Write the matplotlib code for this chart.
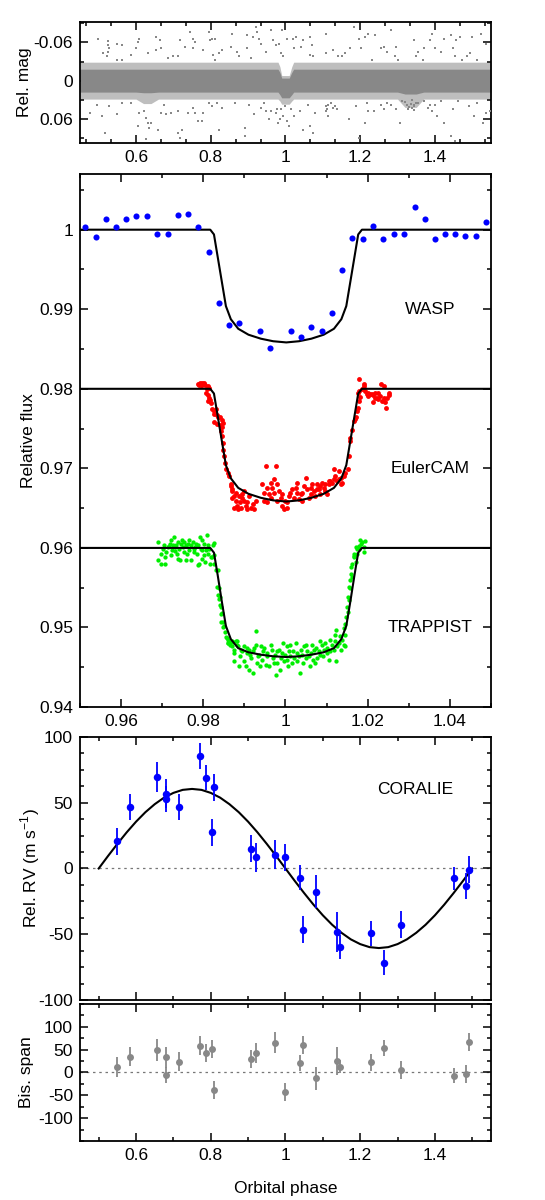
import matplotlib
matplotlib.use('Agg')
import matplotlib.pyplot as plt
from matplotlib.ticker import MultipleLocator, FixedLocator, FuncFormatter

plt.rcParams['font.family'] = ['Liberation Sans', 'DejaVu Sans']
plt.rcParams['font.size'] = 12.5
plt.rcParams['axes.unicode_minus'] = False

# ---------------- data ----------------
# top panel: WASP survey photometry, dense band (edges) + scattered points
band_phase = [0.45, 0.60, 0.62, 0.64, 0.66, 0.98, 0.985, 0.99, 1.01, 1.017, 1.022, 1.30, 1.32, 1.35, 1.37, 1.55]
band_core_top = [-0.018, -0.018, -0.018, -0.018, -0.018, -0.018, -0.013, -0.004, -0.004, -0.013, -0.018, -0.018, -0.018, -0.018, -0.018, -0.018]
band_core_bot = [0.018, 0.018, 0.019, 0.019, 0.018, 0.018, 0.022, 0.027, 0.027, 0.022, 0.018, 0.018, 0.021, 0.021, 0.018, 0.018]
band_fuzz_top = [-0.029, -0.029, -0.029, -0.029, -0.029, -0.029, -0.022, -0.008, -0.008, -0.022, -0.029, -0.029, -0.029, -0.029, -0.029, -0.029]
band_fuzz_bot = [0.029, 0.029, 0.036, 0.036, 0.029, 0.029, 0.032, 0.037, 0.037, 0.032, 0.029, 0.029, 0.042, 0.042, 0.029, 0.029]

out_phase = [0.497, 0.525, 0.524, 0.527, 0.524, 0.511, 0.550, 0.563, 0.522, 0.550, 0.563, 0.586, 0.599, 0.608,
             0.604, 0.631, 0.654, 0.663, 0.654, 0.667, 0.685, 0.699, 0.712, 0.717, 0.731, 0.744, 0.753, 0.758,
             0.753, 0.780, 0.794, 0.798, 0.803, 0.812, 0.807, 0.812, 0.821, 0.830, 0.853, 0.857, 0.871, 0.875,
             0.898, 0.898, 0.907, 0.912, 0.921, 0.925, 0.930, 0.934, 0.948, 0.961, 0.966, 0.975, 0.984, 0.988,
             0.993,
             0.477, 0.495, 0.509, 0.527, 0.550, 0.563, 0.586, 0.608, 0.622, 0.626, 0.631, 0.636, 0.640, 0.658,
             0.667, 0.676, 0.681, 0.694, 0.712, 0.712, 0.717, 0.722, 0.740, 0.753, 0.758, 0.767, 0.776, 0.780,
             0.794, 0.803, 0.817, 0.821, 0.830, 0.866, 0.893, 0.903, 0.916, 0.934, 0.943, 0.948, 0.957, 0.961,
             0.975, 0.979, 0.988, 0.993, 0.518, 0.626, 0.604, 0.893,
             0.991, 1.005, 1.019, 1.028, 1.047, 1.042, 1.024, 1.066, 1.071, 1.066, 1.075, 1.108, 1.108, 1.127,
             1.141, 1.151, 1.160, 1.174, 1.184, 1.198, 1.203, 1.212, 1.222, 1.231, 1.240, 1.255, 1.264, 1.273,
             1.283, 1.297, 1.292, 1.302, 1.344, 1.349, 1.354, 1.368, 1.372, 1.387, 1.391, 1.401, 1.415, 1.424,
             1.443, 1.448, 1.453, 1.457, 1.467, 1.472, 1.486, 1.495, 1.500, 1.514, 1.523, 1.538,
             0.976, 0.986, 1.000, 1.005, 1.009, 1.014, 1.024, 1.038, 1.047, 1.061, 1.066, 1.075, 1.080, 1.108,
             1.113, 1.123, 1.127, 1.132, 1.137, 1.170, 1.189, 1.198, 1.212, 1.217, 1.222, 1.236, 1.255, 1.264,
             1.273, 1.283, 1.297, 1.306, 1.311, 1.344, 1.354, 1.372, 1.382, 1.387, 1.391, 1.401, 1.405, 1.415,
             1.424, 1.443, 1.448, 1.453, 1.462, 1.490, 1.504, 1.514, 1.528, 1.538, 1.547,
             1.320, 1.325, 1.330, 1.335, 1.340, 1.345, 1.350, 1.328, 1.338, 1.343, 1.108, 1.112, 1.115]
out_mag = [-0.066, -0.063, -0.056, -0.051, -0.045, -0.044, -0.057, -0.056, -0.038, -0.032, -0.032, -0.040, -0.051, -0.066,
           -0.061, -0.043, -0.069, -0.064, -0.048, -0.051, -0.035, -0.038, -0.038, -0.064, -0.053, -0.077, -0.066, -0.061,
           -0.051, -0.048, -0.077, -0.064, -0.066, -0.066, -0.040, -0.032, -0.043, -0.048, -0.053, -0.074, -0.045, -0.038,
           -0.071, -0.051, -0.035, -0.069, -0.084, -0.077, -0.066, -0.058, -0.045, -0.079, -0.064, -0.056, -0.058, -0.043,
           -0.038,
           0.051, 0.038, 0.056, 0.040, 0.053, 0.035, 0.035, 0.051, 0.048, 0.058, 0.066, 0.074, 0.066, 0.077,
           0.051, 0.038, 0.053, 0.051, 0.048, 0.082, 0.090, 0.077, 0.051, 0.043, 0.051, 0.064, 0.064, 0.051,
           0.035, 0.040, 0.035, 0.077, 0.043, 0.035, 0.074, 0.038, 0.053, 0.043, 0.035, 0.048, 0.061, 0.048,
           0.051, 0.066, 0.045, 0.056, 0.082, 0.092, 0.071, 0.087,
           -0.080, -0.066, -0.066, -0.069, -0.064, -0.053, -0.051, -0.069, -0.056, -0.040, -0.038, -0.074, -0.043, -0.048,
           -0.038, -0.038, -0.043, -0.051, -0.084, -0.066, -0.051, -0.069, -0.074, -0.032, -0.071, -0.051, -0.053, -0.045,
           -0.079, -0.053, -0.038, -0.032, -0.064, -0.038, -0.045, -0.032, -0.051, -0.064, -0.074, -0.051, -0.045, -0.066,
           -0.071, -0.051, -0.038, -0.064, -0.069, -0.032, -0.038, -0.043, -0.069, -0.032, -0.074, -0.058,
           0.045, 0.061, 0.040, 0.064, 0.071, 0.045, 0.056, 0.048, 0.077, 0.038, 0.071, 0.082, 0.051, 0.048,
           0.056, 0.035, 0.043, 0.040, 0.045, 0.061, 0.040, 0.090, 0.066, 0.035, 0.048, 0.048, 0.038, 0.045,
           0.035, 0.038, 0.045, 0.066, 0.032, 0.040, 0.035, 0.032, 0.043, 0.038, 0.048, 0.038, 0.056, 0.032,
           0.066, 0.087, 0.045, 0.095, 0.032, 0.040, 0.056, 0.035, 0.066, 0.051, 0.048,
           0.033, 0.038, 0.041, 0.036, 0.043, 0.039, 0.035, 0.044, 0.031, 0.046, 0.040, 0.045, 0.038]

# transit panel: binned WASP data
wasp_phase = [0.9513, 0.9538, 0.9563, 0.9588, 0.9613, 0.9637, 0.9662, 0.9687, 0.9713, 0.9738, 0.9763, 0.9788, 0.9813,
              0.9838, 0.9863, 0.9888, 0.9938, 0.9963, 1.0013, 1.0038, 1.0063, 1.0088, 1.0113, 1.0137, 1.0163, 1.0188,
              1.0213, 1.0238, 1.0263, 1.0288, 1.0314, 1.0339, 1.0363, 1.0388, 1.0413, 1.0438, 1.0463, 1.0488]
wasp_flux = [1.0004, 0.9991, 1.0013, 1.0003, 1.0013, 1.0017, 1.0017, 0.9994, 0.9994, 1.0019, 1.0020, 1.0004, 0.9972,
             0.9908, 0.9880, 0.9883, 0.9873, 0.9851, 0.9873, 0.9865, 0.9878, 0.9873, 0.9895, 0.9949, 0.9989, 0.9988,
             1.0005, 0.9988, 0.9995, 0.9994, 1.0028, 1.0013, 0.9988, 0.9995, 0.9994, 0.9992, 0.9992, 1.0010]

# EulerCAM photometry (offset -0.02)
euler_phase = [0.9786, 0.9791, 0.9796, 0.9801, 0.9794, 0.9804, 0.9798, 0.9790, 0.9812, 0.9815, 0.9809,
               0.9807, 0.9811, 0.9814, 0.9817, 0.9812, 0.9819, 0.9820, 0.9825, 0.9830, 0.9827, 0.9833, 0.9836,
               0.9841, 0.9845, 0.9847, 0.9827, 0.9833, 0.9841, 0.9845,
               0.9843, 0.9845, 0.9847, 0.9849, 0.9851, 0.9853, 0.9855, 0.9859, 0.9863, 0.9867, 0.9869,
               0.9867, 0.9871, 0.9875, 0.9879, 0.9882, 0.9885, 0.9890, 0.9893, 0.9895, 0.9899, 0.9903, 0.9907,
               0.9912, 0.9916, 0.9920, 0.9924, 0.9928, 0.9875, 0.9887, 0.9898, 0.9879, 0.9907, 0.9891, 0.9871,
               0.9944, 0.9948, 0.9952, 0.9956, 0.9960, 0.9964, 0.9968, 0.9972, 0.9976, 0.9980, 0.9984, 0.9988,
               0.9992, 0.9996, 1.0000, 1.0004, 1.0008, 1.0012, 0.9948, 0.9956, 0.9966, 0.9980, 0.9992, 1.0003,
               0.9972,
               1.0016, 1.0021, 1.0025, 1.0029, 1.0033, 1.0037, 1.0041, 1.0045, 1.0049, 1.0053, 1.0057, 1.0061,
               1.0065, 1.0069, 1.0073, 1.0077, 1.0081, 1.0085, 1.0089, 1.0093, 1.0097, 1.0101, 1.0105, 1.0109,
               1.0113, 1.0117, 1.0121, 1.0125, 1.0130, 1.0134, 1.0138, 1.0142, 1.0146, 1.0117, 1.0130, 1.0085,
               1.0061, 1.0041, 1.0029, 1.0077, 1.0097, 1.0105, 1.0134,
               1.0151, 1.0154, 1.0156, 1.0158, 1.0162,
               1.0166, 1.0170, 1.0172, 1.0174, 1.0176, 1.0178, 1.0182, 1.0176, 1.0180, 1.0186, 1.0192, 1.0194,
               1.0199, 1.0202, 1.0206, 1.0210, 1.0214, 1.0218, 1.0222, 1.0226, 1.0230, 1.0233, 1.0239, 1.0243,
               1.0247, 1.0251, 1.0252, 1.0244, 1.0180, 1.0190, 1.0214, 1.0234, 1.0239, 1.0226, 1.0202, 1.0218]
euler_flux = [0.98063, 0.98071, 0.98075, 0.98067, 0.98046, 0.98046, 0.98054, 0.98046, 0.98033, 0.98013, 0.97992,
              0.97950, 0.97921, 0.97887, 0.97854, 0.97846, 0.97825, 0.97742, 0.97721, 0.97742, 0.97688, 0.97671, 0.97646,
              0.97646, 0.97604, 0.97575, 0.97588, 0.97563, 0.97546, 0.97521,
              0.97467, 0.97404, 0.97321, 0.97237, 0.97154, 0.97071, 0.96988, 0.96946, 0.96904, 0.96800, 0.96737,
              0.96779, 0.96717, 0.96654, 0.96592, 0.96529, 0.96487, 0.96571, 0.96633, 0.96675, 0.96592, 0.96529, 0.96571,
              0.96654, 0.96508, 0.96550, 0.96487, 0.96592, 0.96508, 0.96654, 0.96717, 0.96696, 0.96487, 0.96508, 0.96633,
              0.96800, 0.96696, 0.97029, 0.96758, 0.96675, 0.96821, 0.96758, 0.96862, 0.97029, 0.96800, 0.96717, 0.96633,
              0.96529, 0.96487, 0.96592, 0.96571, 0.96654, 0.96696, 0.96592, 0.96571, 0.96633, 0.96592, 0.96675, 0.96508,
              0.96696,
              0.96737, 0.96633, 0.96758, 0.96696, 0.96613, 0.96675, 0.96592, 0.96779, 0.96883, 0.96737, 0.96633, 0.96758,
              0.96800, 0.96717, 0.96654, 0.96800, 0.96737, 0.96779, 0.96821, 0.96758, 0.96717, 0.96675, 0.96800, 0.96842,
              0.96821, 0.96862, 0.96904, 0.96842, 0.96862, 0.96883, 0.96821, 0.96904, 0.96946, 0.96988, 0.96967, 0.96675,
              0.96675, 0.96696, 0.96821, 0.96737, 0.96800, 0.96842, 0.96800,
              0.96992, 0.97154, 0.97342, 0.97383, 0.97487,
              0.97596, 0.97617, 0.97646, 0.97721, 0.97754, 0.97846, 0.97896, 0.97950, 0.97971, 0.97992, 0.98033, 0.97971,
              0.97938, 0.97950, 0.97938, 0.97929, 0.97921, 0.97950, 0.97887, 0.97867, 0.97908, 0.98063, 0.98033, 0.97838,
              0.97887, 0.97950, 0.97921, 0.97754, 0.98117, 0.98063, 0.97838, 0.97846, 0.97887, 0.97950, 0.97908, 0.97879]

# TRAPPIST photometry (offset -0.04)
trap_phase = [0.9689, 0.9691, 0.9696, 0.9698, 0.9702, 0.9704, 0.9706, 0.9707, 0.9710, 0.9714, 0.9718, 0.9722,
              0.9723, 0.9726, 0.9728, 0.9730, 0.9734, 0.9736, 0.9738, 0.9742, 0.9744, 0.9746, 0.9750, 0.9752,
              0.9754, 0.9758, 0.9760, 0.9762, 0.9766, 0.9769, 0.9770, 0.9774, 0.9777, 0.9778, 0.9782, 0.9785,
              0.9786, 0.9788, 0.9790, 0.9793, 0.9794, 0.9796, 0.9798, 0.9801, 0.9802, 0.9804, 0.9807, 0.9809,
              0.9811, 0.9812, 0.9815, 0.9817, 0.9819, 0.9823, 0.9825, 0.9827, 0.9716, 0.9732, 0.9748, 0.9765,
              0.9781, 0.9797, 0.9722, 0.9738, 0.9758,
              0.9822, 0.9826, 0.9830, 0.9834, 0.9836, 0.9838, 0.9840, 0.9842, 0.9844, 0.9847, 0.9852, 0.9855,
              0.9861, 0.9865, 0.9873, 0.9881, 0.9835, 0.9839, 0.9841, 0.9843, 0.9845, 0.9849, 0.9851, 0.9857,
              0.9859,
              0.9861, 0.9865, 0.9869, 0.9871, 0.9874, 0.9875, 0.9879, 0.9881, 0.9885, 0.9887, 0.9890, 0.9891,
              0.9895, 0.9898, 0.9899, 0.9903, 0.9906, 0.9907, 0.9912, 0.9914, 0.9917, 0.9920, 0.9922, 0.9924,
              0.9928, 0.9930, 0.9932, 0.9936, 0.9938, 0.9940, 0.9944, 0.9946, 0.9948, 0.9952, 0.9954, 0.9956,
              0.9960, 0.9964, 0.9968, 0.9970, 0.9972, 0.9974, 0.9976, 0.9979, 0.9980, 0.9984, 0.9987, 0.9988,
              0.9992, 0.9995, 0.9996, 1.0000, 1.0003, 1.0004, 1.0006, 1.0008, 1.0011, 1.0012, 1.0016, 1.0019,
              1.0021, 1.0025, 1.0027, 1.0029, 1.0033, 1.0035, 1.0037, 1.0041, 1.0043, 1.0045, 1.0049, 1.0051,
              1.0053, 1.0057, 1.0059, 1.0061, 1.0065, 1.0067, 1.0069, 1.0073, 1.0075, 1.0077, 1.0081, 1.0083,
              1.0085, 1.0089, 1.0092, 1.0093, 1.0097, 1.0100, 1.0101, 1.0105, 1.0108, 1.0109, 1.0113, 1.0117,
              1.0121, 1.0124, 1.0125, 1.0130, 1.0132, 1.0134, 1.0138, 1.0142, 1.0144, 1.0146, 0.9928, 0.9875,
              0.9912,
              1.0143, 1.0147, 1.0150, 1.0153, 1.0155, 1.0157, 1.0159, 1.0163, 1.0166, 1.0167, 1.0171, 1.0173,
              1.0175, 1.0179, 1.0183, 1.0186, 1.0190, 1.0194, 1.0160, 1.0151, 1.0145, 1.0124, 1.0120, 1.0154,
              1.0158, 1.0162, 1.0167, 1.0172, 1.0180, 1.0182, 1.0190]
trap_flux = [0.96075, 0.95854, 0.95929, 0.95804, 0.95992, 0.96033, 0.95888, 0.95804, 0.95950, 0.96013, 0.96054, 0.96096,
             0.95971, 0.96033, 0.96138, 0.96013, 0.96033, 0.95929, 0.96075, 0.95992, 0.95854, 0.96054, 0.96013, 0.95950,
             0.96075, 0.96033, 0.95929, 0.96054, 0.95971, 0.95846, 0.96033, 0.96075, 0.95992, 0.95950, 0.96054, 0.95929,
             0.95783, 0.96033, 0.95804, 0.96138, 0.95992, 0.95867, 0.95971, 0.96054, 0.95908, 0.95825, 0.95971, 0.96159,
             0.96033, 0.95929, 0.95992, 0.95804, 0.95888, 0.96033, 0.95908, 0.96063, 0.96021, 0.95963, 0.96096, 0.96104,
             0.96013, 0.96096, 0.95908, 0.95867, 0.95846,
             0.95883, 0.95800, 0.95717, 0.95508, 0.95404, 0.95363, 0.95279, 0.95175, 0.95071, 0.95008, 0.94946, 0.94883,
             0.94842, 0.94821, 0.94821, 0.94833, 0.95721, 0.95492, 0.95388, 0.95263, 0.95179, 0.95075, 0.95013, 0.94867,
             0.94804,
             0.94804, 0.94783, 0.94825, 0.94763, 0.94721, 0.94679, 0.94825, 0.94783, 0.94763, 0.94513, 0.94638, 0.94721,
             0.94700, 0.94763, 0.94575, 0.94513, 0.94679, 0.94742, 0.94721, 0.94658, 0.94617, 0.94429, 0.94700, 0.94742,
             0.94783, 0.94554, 0.94638, 0.94658, 0.94513, 0.94763, 0.94596, 0.94700, 0.94742, 0.94533, 0.94638, 0.94679,
             0.94513, 0.94783, 0.94721, 0.94617, 0.94554, 0.94658, 0.94408, 0.94700, 0.94554, 0.94721, 0.94471, 0.94617,
             0.94679, 0.94804, 0.94575, 0.94658, 0.94596, 0.94763, 0.94513, 0.94700, 0.94638, 0.94783, 0.94554, 0.94700,
             0.94617, 0.94804, 0.94575, 0.94679, 0.94638, 0.94429, 0.94721, 0.94658, 0.94554, 0.94763, 0.94617, 0.94783,
             0.94700, 0.94638, 0.94513, 0.94679, 0.94783, 0.94596, 0.94721, 0.94554, 0.94742, 0.94617, 0.94700, 0.94825,
             0.94658, 0.94783, 0.94638, 0.94721, 0.94804, 0.94679, 0.94742, 0.94596, 0.94846, 0.94700, 0.94783, 0.94721,
             0.94825, 0.94575, 0.94763, 0.94804, 0.94888, 0.94721, 0.94846, 0.94783, 0.94908, 0.94763, 0.94950, 0.94575,
             0.94471,
             0.94988, 0.95133, 0.95258, 0.95383, 0.95508, 0.95592, 0.95675, 0.95800, 0.95904, 0.95883, 0.95821, 0.95925,
             0.95988, 0.96029, 0.96050, 0.96071, 0.96008, 0.96092, 0.95758, 0.95196, 0.95050, 0.94967, 0.94904, 0.95346,
             0.95492, 0.95638, 0.95929, 0.96013, 0.95992, 0.96096, 0.95950]

# transit model curves
model_phase = [0.95, 0.9817, 0.9826, 0.9835, 0.9845, 0.9855, 0.9867, 0.9885, 0.9910, 0.9940, 0.9970, 1.0002,
               1.0033, 1.0063, 1.0093, 1.0118, 1.0136, 1.0148, 1.0158, 1.0168, 1.0177, 1.0186, 1.05]
wasp_model = [1.0, 1.0, 0.9994, 0.9966, 0.9935, 0.9904, 0.98875, 0.98755, 0.98680, 0.98630, 0.98598, 0.98583,
              0.98598, 0.98630, 0.98680, 0.98755, 0.98875, 0.9904, 0.9935, 0.9966, 0.9994, 1.0, 1.0]
euler_model = [0.98, 0.98, 0.9794, 0.9766, 0.9735, 0.9704, 0.96875, 0.96755, 0.96680, 0.96630, 0.96598, 0.96583,
               0.96598, 0.96630, 0.96680, 0.96755, 0.96875, 0.9704, 0.9735, 0.9766, 0.9794, 0.98, 0.98]
trap_model = [0.96, 0.96, 0.9594, 0.9566, 0.9533, 0.9502, 0.94854, 0.94740, 0.94688, 0.94658, 0.94638, 0.94629,
              0.94638, 0.94658, 0.94688, 0.94740, 0.94854, 0.9502, 0.9533, 0.9566, 0.9594, 0.96, 0.96]

# CORALIE radial velocities and bisector spans
rv_phase = [0.550, 0.583, 0.655, 0.681, 0.681, 0.715, 0.772, 0.787, 0.804, 0.810, 0.907, 0.920, 0.971,
            1.000, 1.039, 1.046, 1.082, 1.139, 1.146, 1.229, 1.264, 1.308, 1.450, 1.484, 1.492]
rv = [20.6, 46.7, 69.3, 56.9, 53.0, 46.7, 85.8, 69.0, 27.4, 61.7, 15.0, 8.6, 10.4,
      8.4, -7.1, -46.4, -17.5, -48.2, -59.9, -49.2, -71.6, -42.6, -7.6, -13.2, -0.8]
rv_err = [10.4, 10.0, 11.4, 11.0, 10.0, 10.0, 10.0, 9.5, 10.0, 10.0, 10.4, 11.0, 11.0,
          10.5, 9.5, 10.0, 12.5, 15.0, 9.0, 9.5, 9.5, 10.0, 9.0, 10.0, 10.0]
bis = [12, 35, 49, 33, -5, 24, 59, 43, 51, -39, 29, 43, 65,
       -42, 21, 61, -13, 25, 13, 22, 54, 5, -7, -3, 66]
bis_err = [22, 20, 24, 23, 18, 20, 20, 20, 20, 20, 20, 22, 23,
           20, 18, 20, 25, 30, 15, 18, 18, 20, 17, 20, 20]

rv_model_phase = [0.5, 0.525, 0.55, 0.575, 0.6, 0.625, 0.65, 0.675, 0.7, 0.725, 0.75, 0.775, 0.8, 0.825,
                  0.85, 0.875, 0.9, 0.925, 0.95, 0.975, 1.0, 1.025, 1.05, 1.075, 1.1, 1.125, 1.15, 1.175,
                  1.2, 1.225, 1.25, 1.275, 1.3, 1.325, 1.35, 1.375, 1.4, 1.425, 1.45, 1.475, 1.5]
rv_model = [0, 9.5, 18.7, 27.5, 35.6, 42.8, 48.9, 53.9, 57.5, 59.8, 60.5, 59.8, 57.5, 53.9,
            48.9, 42.8, 35.6, 27.5, 18.7, 9.5, 0, -9.5, -18.7, -27.5, -35.6, -42.8, -48.9, -53.9,
            -57.5, -59.8, -60.5, -59.8, -57.5, -53.9, -48.9, -42.8, -35.6, -27.5, -18.7, -9.5, 0]

# ---------------- figure ----------------
GRAY = '#888888'
fmt = FuncFormatter(lambda v, p: '%g' % (round(v, 6) + 0.0))


def style(ax):
    ax.tick_params(which='both', direction='in', top=True, right=True, width=1.1)
    ax.tick_params(which='major', length=6, pad=5)
    ax.tick_params(which='minor', length=3)
    for s in ax.spines.values():
        s.set_linewidth(1.3)


fig = plt.figure(figsize=(5.45, 12), dpi=100)
L, W = 0.1468, 0.754

# top panel
ax0 = fig.add_axes([L, 0.8808, W, 0.1008])
ax0.fill_between(band_phase, band_fuzz_top, band_fuzz_bot, color='#bebebe', lw=0, zorder=1)
ax0.fill_between(band_phase, band_core_top, band_core_bot, color=GRAY, lw=0, zorder=2)
ax0.plot(out_phase, out_mag, 's', color=GRAY, ms=1.7, mew=0, zorder=3)
ax0.set_xlim(0.45, 1.55)
ax0.set_ylim(0.098, -0.092)
ax0.xaxis.set_major_locator(MultipleLocator(0.2))
ax0.xaxis.set_minor_locator(MultipleLocator(0.2 / 3))
ax0.yaxis.set_major_locator(MultipleLocator(0.06))
ax0.yaxis.set_minor_locator(MultipleLocator(0.03))
ax0.xaxis.set_major_formatter(fmt)
ax0.yaxis.set_major_formatter(fmt)
ax0.set_ylabel('Rel. mag')
ax0.yaxis.set_label_coords(-0.117, 0.5)
style(ax0)

# transit panel
ax1 = fig.add_axes([L, 0.4108, W, 0.4442])
ax1.plot(model_phase, wasp_model, color='black', lw=1.5, zorder=2)
ax1.plot(model_phase, euler_model, color='black', lw=1.5, zorder=2)
ax1.plot(model_phase, trap_model, color='black', lw=1.5, zorder=2)
ax1.plot(wasp_phase, wasp_flux, 'o', color='#0000ff', ms=4.4, mew=0, zorder=3)
ax1.plot(euler_phase, euler_flux, 'o', color='#ff0000', ms=3.5, mew=0, zorder=1)
ax1.plot(trap_phase, trap_flux, 'o', color='#00ee00', ms=3.1, mew=0, zorder=1)
ax1.text(1.0352, 0.99, 'WASP', ha='center', va='center')
ax1.text(1.0352, 0.97, 'EulerCAM', ha='center', va='center')
ax1.text(1.0352, 0.95, 'TRAPPIST', ha='center', va='center')
ax1.set_xlim(0.95, 1.05)
ax1.set_ylim(0.94, 1.007)
ax1.xaxis.set_major_locator(MultipleLocator(0.02))
ax1.xaxis.set_minor_locator(MultipleLocator(0.01))
ax1.yaxis.set_major_locator(MultipleLocator(0.01))
ax1.yaxis.set_minor_locator(MultipleLocator(0.005))
ax1.xaxis.set_major_formatter(fmt)
ax1.yaxis.set_major_formatter(fmt)
ax1.set_ylabel('Relative flux')
ax1.yaxis.set_label_coords(-0.108, 0.5)
style(ax1)

# RV panel
ax2 = fig.add_axes([L, 0.16667, W, 0.21917])
ax2.axhline(0, color='#777777', lw=0.9, ls=(0, (2, 3)), zorder=1)
ax2.plot(rv_model_phase, rv_model, color='black', lw=1.5, zorder=2)
ax2.errorbar(rv_phase, rv, yerr=rv_err, fmt='o', color='#0000ff', ms=5.4, mew=0,
             elinewidth=1.3, capsize=0, zorder=3)
ax2.text(1.3485, 60, 'CORALIE', ha='center', va='center')
ax2.set_xlim(0.45, 1.55)
ax2.set_ylim(-100, 100)
ax2.xaxis.set_major_locator(MultipleLocator(0.2))
ax2.xaxis.set_minor_locator(MultipleLocator(0.1))
ax2.yaxis.set_major_locator(MultipleLocator(50))
ax2.yaxis.set_minor_locator(MultipleLocator(12.5))
ax2.yaxis.set_major_formatter(fmt)
ax2.tick_params(labelbottom=False)
ax2.set_ylabel(r'Rel. RV (m s$^{\mathregular{-1}}$)')
ax2.yaxis.set_label_coords(-0.093, 0.5)
style(ax2)

# bisector panel
ax3 = fig.add_axes([L, 0.04917, W, 0.11417])
ax3.axhline(0, color='#777777', lw=0.9, ls=(0, (2, 3)), zorder=1)
ax3.errorbar(rv_phase, bis, yerr=bis_err, fmt='o', color=GRAY, ms=5.0, mew=0,
             elinewidth=1.3, capsize=0, zorder=3)
ax3.set_xlim(0.45, 1.55)
ax3.set_ylim(-150, 150)
ax3.xaxis.set_major_locator(MultipleLocator(0.2))
ax3.xaxis.set_minor_locator(MultipleLocator(0.1))
ax3.yaxis.set_major_locator(FixedLocator([-100, -50, 0, 50, 100]))
ax3.yaxis.set_minor_locator(MultipleLocator(25))
ax3.xaxis.set_major_formatter(fmt)
ax3.yaxis.set_major_formatter(fmt)
ax3.set_ylabel('Bis. span')
ax3.yaxis.set_label_coords(-0.112, 0.5)
ax3.set_xlabel('Orbital phase', labelpad=13)
style(ax3)

fig.savefig('out.png', dpi=100)
